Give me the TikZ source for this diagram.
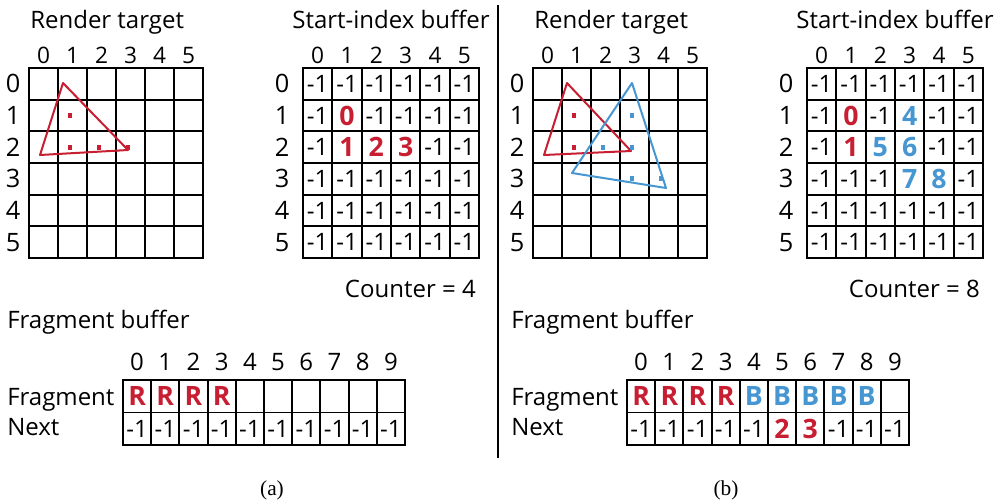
\documentclass[tikz,border=0pt]{standalone}
\usepackage{fontspec}
\setmainfont{Open Sans}
\newfontfamily\capfont{Liberation Serif}
\definecolor{tred}{RGB}{200,30,50}
\definecolor{tblue}{RGB}{70,150,210}
\newcommand\redv[1]{{\fontsize{20}{22}\selectfont\bfseries\color{tred}#1}}
\newcommand\bluev[1]{{\fontsize{20}{22}\selectfont\bfseries\color{tblue}#1}}

\begin{document}
\begin{tikzpicture}[x=0.75pt,y=-0.75pt,
  grid/.style={line width=1.4pt,line cap=rect},
  title/.style={font=\fontsize{18}{20}\selectfont,inner sep=0pt},
  collbl/.style={font=\fontsize{17}{18}\selectfont,inner sep=0pt},
  rowlbl/.style={font=\fontsize{19}{20}\selectfont,inner sep=0pt},
  cell/.style={font=\fontsize{18}{20}\selectfont,inner sep=0pt},
  tri/.style={line width=1.5pt,line join=round},
  dot/.style={inner sep=0pt,minimum width=3pt,minimum height=3.75pt}]
\useasboundingbox (0,0) rectangle (1001,504);

% 区切り線
\coordinate (divtop) at (498,5);
\coordinate (divbot) at (498,458);
\draw[line width=1.2pt] (divtop) -- (divbot);

% 共通部分 (格子と見出し)
\foreach \p/\dx in {a/0,b/504}{
 \begin{scope}[xshift=\dx*0.75pt]
  % 描画先
  \node[title,anchor=base west] (\p-rt) at (30,28) {Render target};
  \foreach \i in {0,...,6}{
    \draw[grid] ({29+29*\i},68) -- ({29+29*\i},258);
    \draw[grid] (29,{68+31.67*\i}) -- (203,{68+31.67*\i});
  }
  \foreach \i in {0,...,5}{
    \node[collbl,anchor=base] (\p-rc\i) at ({29+29*(\i+0.5)},63) {\i};
    \node[rowlbl] (\p-rr\i) at (13,{68+31.67*(\i+0.5)}) {\i};
  }
  % 開始インデックスバッファ
  \node[title,anchor=base] (\p-st) at (391,28) {Start-index buffer};
  \foreach \i in {0,...,6}{
    \draw[grid] ({303+29.33*\i},68) -- ({303+29.33*\i},258);
    \draw[grid] (303,{68+31.67*\i}) -- (479,{68+31.67*\i});
  }
  \foreach \i in {0,...,5}{
    \node[collbl,anchor=base] (\p-sc\i) at ({303+29.33*(\i+0.5)},63) {\i};
    \node[rowlbl] (\p-sr\i) at (282,{68+31.67*(\i+0.5)}) {\i};
  }
  % フラグメントバッファ
  \node[title,anchor=base west] (\p-ft) at (7,328) {Fragment buffer};
  \node[title,anchor=base west] (\p-fl) at (7,405) {Fragment};
  \node[title,anchor=base west] (\p-nl) at (7,435) {Next};
  \foreach \i in {0,...,10}
    \draw[grid] ({123+28.2*\i},380) -- ({123+28.2*\i},445);
  \foreach \i in {0,...,2}
    \draw[grid] (123,{380+32.5*\i}) -- (405,{380+32.5*\i});
  \foreach \i in {0,...,9}
    \node[title,anchor=base] (\p-fc\i) at ({123+28.2*(\i+0.5)},370) {\i};
 \end{scope}
}

% (a)
\draw[tri,tred] (63,83) -- (40,155) -- (128,150) -- cycle;
\foreach \c/\r in {1/1,1/2,2/2,3/2}
  \node[dot,fill=tred] (a-d\c\r) at ({29+29*(\c+0.4)},{68+31.67*(\r+0.5)}) {};
\foreach \line [count=\r from 0] in {{-1,-1,-1,-1,-1,-1},{-1,\redv{0},-1,-1,-1,-1},
    {-1,\redv{1},\redv{2},\redv{3},-1,-1},{-1,-1,-1,-1,-1,-1},
    {-1,-1,-1,-1,-1,-1},{-1,-1,-1,-1,-1,-1}}
  \foreach \v [count=\c from 0] in \line
    \node[cell] (a-s\r\c) at ({303+29.33*(\c+0.5)},{68+31.67*(\r+0.5)}) {\v};
\node[title,anchor=base east] (a-cnt) at (476,297) {Counter = 4};
\foreach \v [count=\c from 0] in {\redv{R},\redv{R},\redv{R},\redv{R},{},{},{},{},{},{}}
  \node[cell] (a-f\c) at ({123+28.2*(\c+0.5)},396) {\v};
\foreach \v [count=\c from 0] in {-1,-1,-1,-1,-1,-1,-1,-1,-1,-1}
  \node[cell] (a-n\c) at ({123+28.2*(\c+0.5)},429) {\v};
\node[font=\capfont\fontsize{16}{18}\selectfont] (capa) at (272,490) {(a)};

% (b)
\begin{scope}[xshift=504*0.75pt]
  \draw[tri,tred] (63,83) -- (40,155) -- (127,151) -- cycle;
  \draw[tri,tblue] (128,83) -- (68,173) -- (162,188) -- cycle;
  \foreach \c/\r in {1/1,1/2}
    \node[dot,fill=tred] (b-d\c\r) at ({29+29*(\c+0.4)},{68+31.67*(\r+0.5)}) {};
  \foreach \c/\r in {3/1,2/2,3/2,3/3,4/3}
    \node[dot,fill=tblue] (b-e\c\r) at ({29+29*(\c+0.4)},{68+31.67*(\r+0.5)}) {};
  \foreach \line [count=\r from 0] in {{-1,-1,-1,-1,-1,-1},{-1,\redv{0},-1,\bluev{4},-1,-1},
      {-1,\redv{1},\bluev{5},\bluev{6},-1,-1},{-1,-1,-1,\bluev{7},\bluev{8},-1},
      {-1,-1,-1,-1,-1,-1},{-1,-1,-1,-1,-1,-1}}
    \foreach \v [count=\c from 0] in \line
      \node[cell] (b-s\r\c) at ({303+29.33*(\c+0.5)},{68+31.67*(\r+0.5)}) {\v};
  \node[title,anchor=base east] (b-cnt) at (476,297) {Counter = 8};
  \foreach \v [count=\c from 0] in {\redv{R},\redv{R},\redv{R},\redv{R},\bluev{B},\bluev{B},\bluev{B},\bluev{B},\bluev{B},{}}
    \node[cell] (b-f\c) at ({123+28.2*(\c+0.5)},396) {\v};
  \foreach \v [count=\c from 0] in {-1,-1,-1,-1,-1,\redv{2},\redv{3},-1,-1,-1}
    \node[cell] (b-n\c) at ({123+28.2*(\c+0.5)},429) {\v};
\end{scope}
\node[font=\capfont\fontsize{16}{18}\selectfont] (capb) at (726,490) {(b)};
\end{tikzpicture}
\end{document}
